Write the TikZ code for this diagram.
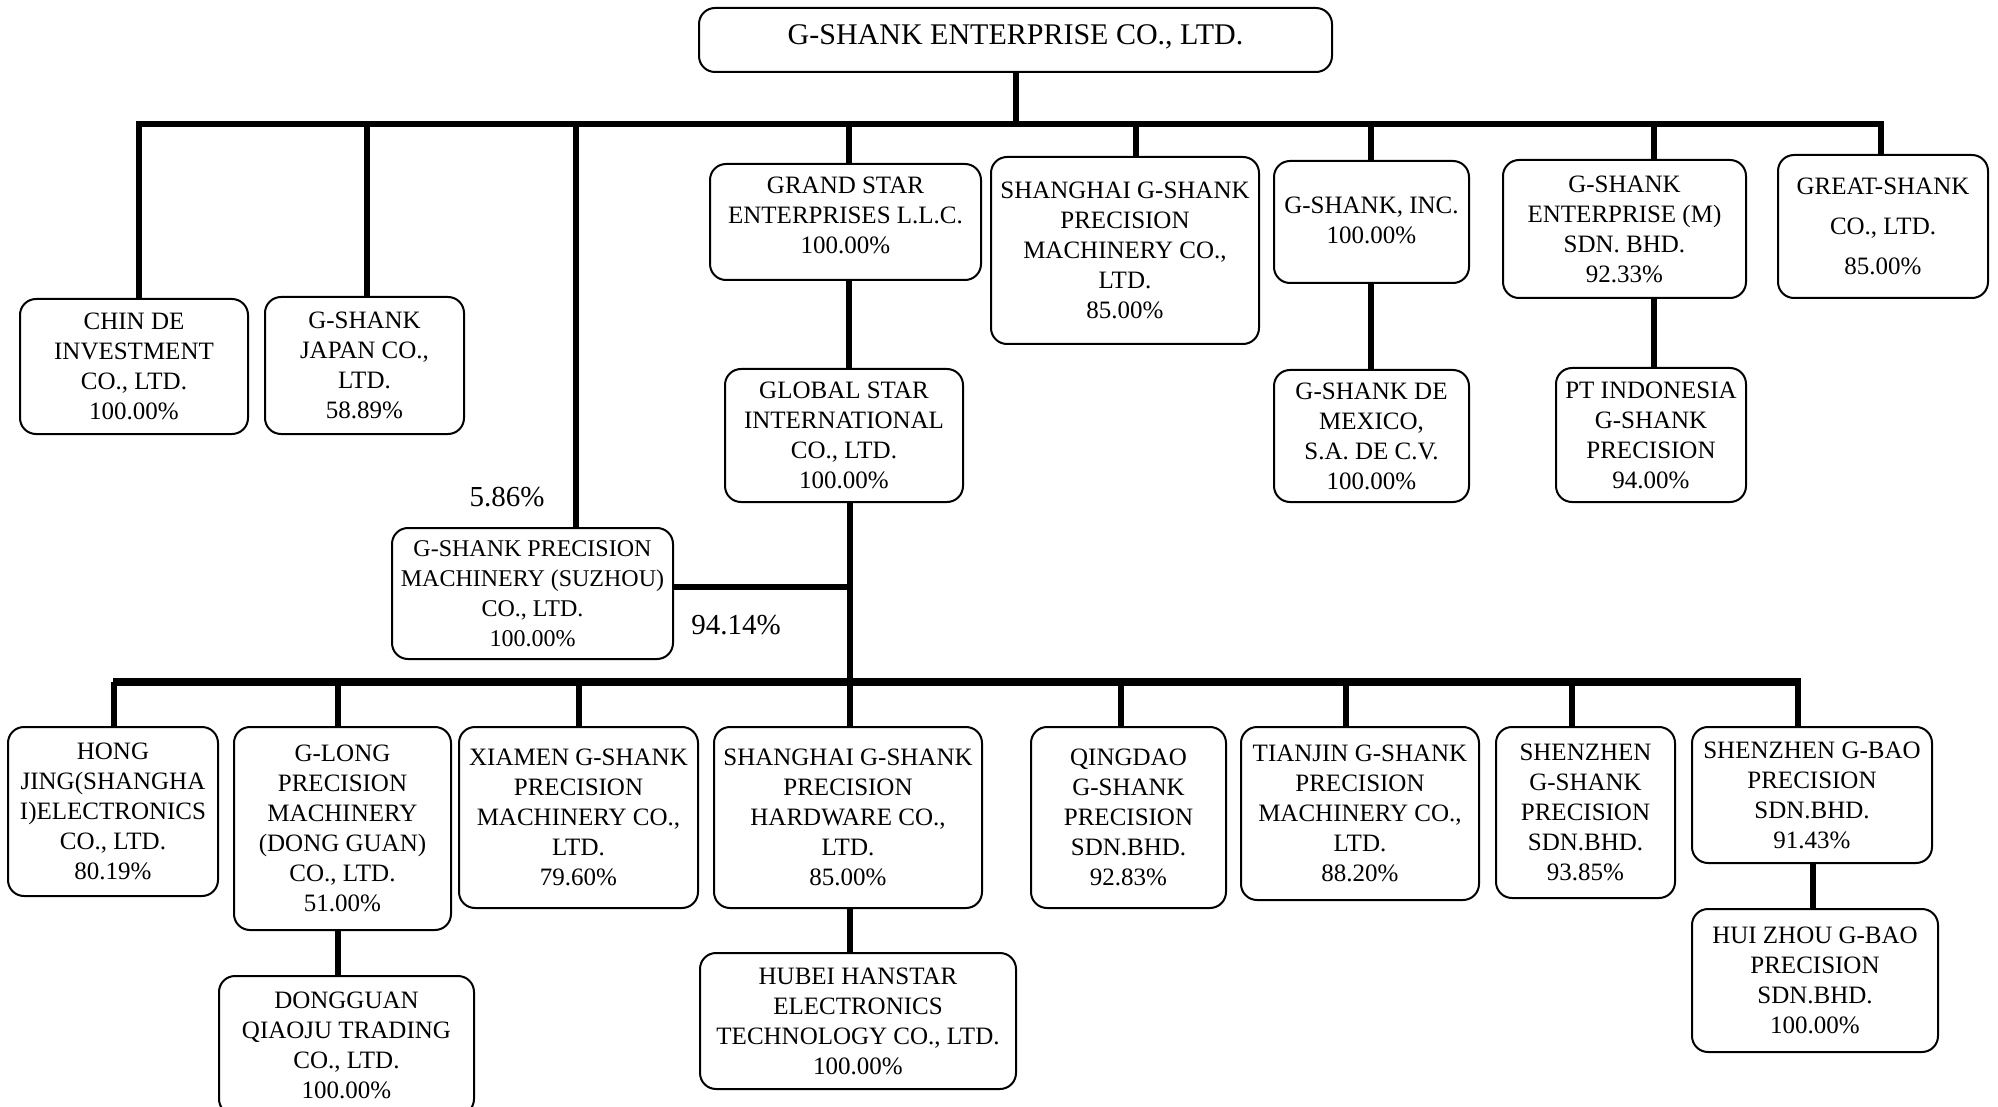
\documentclass[tikz,border=0pt]{standalone}
\usepackage{fontspec}
\setmainfont{Liberation Serif}
\begin{document}
\begin{tikzpicture}[x=0.5pt,y=-0.5pt,
  box/.style={draw,line width=1pt,rounded corners=8pt,align=center,inner sep=0pt,
    font=\fontsize{12.5}{15}\selectfont},
  vl/.style={line width=3pt},
  busline/.style={line width=3pt},
  busline2/.style={line width=4pt},
  pct/.style={font=\fontsize{14.5}{17}\selectfont,inner sep=0pt}]
\useasboundingbox (0,0) rectangle (1998,1107);
\newcommand\bx[6]{\node[box,minimum width=#4*0.5pt,minimum height=#5*0.5pt] (#1) at (#2,#3) {#6};}
% top
\node[draw,line width=1pt,rounded corners=8pt,minimum width=633*0.5pt,minimum height=64*0.5pt] (top) at (1015.5,40) {};
\node[font=\fontsize{15}{18}\selectfont,inner sep=0pt] (toptext) at (1015.5,37) {G-SHANK ENTERPRISE CO., LTD.};
% first level
\bx{chin}{134}{366.5}{228}{135}{CHIN DE\\INVESTMENT\\CO., LTD.\\100.00\%}
\bx{japan}{364.5}{365.5}{199}{137}{G-SHANK\\JAPAN CO.,\\LTD.\\58.89\%}
\bx{suzhou}{532.5}{593.5}{281}{131}{\fontsize{12}{15}\selectfont G-SHANK PRECISION\\\fontsize{12}{15}\selectfont MACHINERY (SUZHOU)\\\fontsize{12}{15}\selectfont CO., LTD.\\\fontsize{12}{15}\selectfont 100.00\%}
\bx{grand}{845.5}{222}{271}{116}{GRAND STAR\\ENTERPRISES L.L.C.\\100.00\%\\[-8pt]\mbox{}}
\bx{global}{844}{435.5}{238}{133}{GLOBAL STAR\\INTERNATIONAL\\CO., LTD.\\100.00\%}
\bx{shmach}{1125}{250.5}{268}{187}{SHANGHAI G-SHANK\\PRECISION\\MACHINERY CO.,\\LTD.\\85.00\%}
\bx{inc}{1371.5}{222}{195}{122}{\mbox{}\\[-8pt]G-SHANK, INC.\\100.00\%}
\bx{mexico}{1371.5}{436}{195}{132}{G-SHANK DE\\MEXICO,\\S.A. DE C.V.\\100.00\%}
\bx{entm}{1624.5}{229}{243}{138}{G-SHANK\\ENTERPRISE (M)\\SDN. BHD.\\92.33\%}
\bx{pt}{1651}{435}{190}{134}{PT INDONESIA\\G-SHANK\\PRECISION\\94.00\%}
\bx{great}{1883}{226.5}{210}{143}{GREAT-SHANK\\[5pt]CO., LTD.\\[5pt]85.00\%}
% bottom level
\bx{hong}{113}{811.5}{210}{169}{HONG\\JING(SHANGHA\\I)ELECTRONICS\\CO., LTD.\\80.19\%}
\bx{glong}{342.5}{828.5}{217}{203}{G-LONG\\PRECISION\\MACHINERY\\(DONG GUAN)\\CO., LTD.\\51.00\%}
\bx{dongguan}{346.5}{1045.5}{255}{139}{DONGGUAN\\QIAOJU TRADING\\CO., LTD.\\100.00\%}
\bx{xiamen}{578.5}{817.5}{239}{181}{XIAMEN G-SHANK\\PRECISION\\MACHINERY CO.,\\LTD.\\79.60\%}
\bx{shhard}{848}{817.5}{268}{181}{SHANGHAI G-SHANK\\PRECISION\\HARDWARE CO.,\\LTD.\\85.00\%}
\bx{hubei}{858}{1021}{316}{136}{HUBEI HANSTAR\\ELECTRONICS\\TECHNOLOGY CO., LTD.\\100.00\%}
\bx{qingdao}{1128.5}{817.5}{195}{181}{QINGDAO\\G-SHANK\\PRECISION\\SDN.BHD.\\92.83\%}
\bx{tianjin}{1360}{813.5}{238}{173}{TIANJIN G-SHANK\\PRECISION\\MACHINERY CO.,\\LTD.\\88.20\%}
\bx{shenzhen}{1585.5}{812.5}{179}{171}{SHENZHEN\\G-SHANK\\PRECISION\\SDN.BHD.\\93.85\%}
\bx{gbao}{1812}{795}{240}{136}{SHENZHEN G-BAO\\PRECISION\\SDN.BHD.\\91.43\%}
\bx{huizhou}{1815}{980.5}{246}{143}{HUI ZHOU G-BAO\\PRECISION\\SDN.BHD.\\100.00\%}
% labels
\node[pct] (p586) at (507,497) {5.86\%};
\node[pct] (p9414) at (736,625) {94.14\%};
% top bus
\coordinate (busL) at (139,124);
\coordinate (busR) at (1881,124);
\draw[vl] (top.south) -- (top.south |- busL);
\draw[busline] ([xshift=-1.5pt]busL) -- ([xshift=1.5pt]busR);
\coordinate (t1) at (139,124);
\coordinate (t2) at (367,124);
\coordinate (t3) at (576,124);
\coordinate (t4) at (849,124);
\coordinate (t5) at (1136,124);
\coordinate (t6) at (1371,124);
\coordinate (t7) at (1654,124);
\coordinate (t8) at (1881,124);
\draw[vl] (t1) -- (t1 |- chin.north);
\draw[vl] (t2) -- (t2 |- japan.north);
\draw[vl] (t3) -- (t3 |- suzhou.north);
\draw[vl] (t4) -- (t4 |- grand.north);
\draw[vl] (t5) -- (t5 |- shmach.north);
\draw[vl] (t6) -- (t6 |- inc.north);
\draw[vl] (t7) -- (t7 |- entm.north);
\draw[vl] (t8) -- (t8 |- great.north);
% second level links
\draw[vl] (t4 |- grand.south) -- (t4 |- global.north);
\draw[vl] (t6 |- inc.south) -- (t6 |- mexico.north);
\draw[vl] (t7 |- entm.south) -- (t7 |- pt.north);
% global star down to bottom
\coordinate (bbusL) at (113,682);
\coordinate (bbusR) at (1801,682);
\coordinate (g) at (850,682);
\draw[vl] (g |- global.south) -- (g |- shhard.north);
\draw[busline] (suzhou.east |- 0,587) -- (850,587);
\draw[busline2] (bbusL) -- (bbusR);
\coordinate (b1) at (114,682);
\coordinate (b2) at (338,682);
\coordinate (b3) at (579,682);
\coordinate (b5) at (1121,682);
\coordinate (b6) at (1346,682);
\coordinate (b7) at (1572,682);
\coordinate (b8) at (1798,682);
\draw[vl] (b1) -- (b1 |- hong.north);
\draw[vl] (b2) -- (b2 |- glong.north);
\draw[vl] (b3) -- (b3 |- xiamen.north);
\draw[vl] (b5) -- (b5 |- qingdao.north);
\draw[vl] (b6) -- (b6 |- tianjin.north);
\draw[vl] (b7) -- (b7 |- shenzhen.north);
\draw[vl] ([yshift=2pt]b8) -- (b8 |- gbao.north);
% third level
\draw[vl] (b2 |- glong.south) -- (b2 |- dongguan.north);
\draw[vl] (g |- shhard.south) -- (g |- hubei.north);
\coordinate (h) at (1813,900);
\draw[vl] (h |- gbao.south) -- (h |- huizhou.north);
\end{tikzpicture}
\end{document}
